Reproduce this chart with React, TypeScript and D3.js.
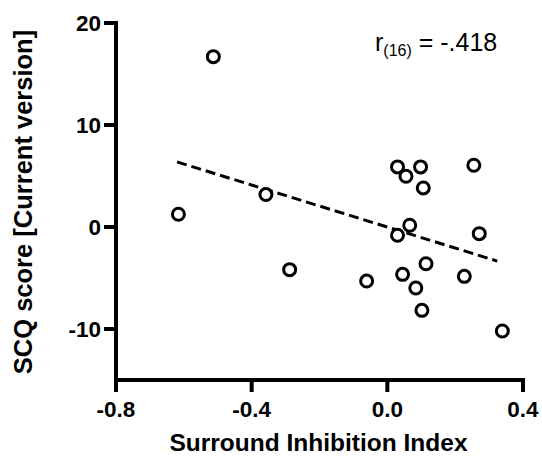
import React from "react";
import * as d3 from "d3";

const xTicks = [-0.8, -0.4, 0.0, 0.4];
const xTickLabels = ["-0.8", "-0.4", "0.0", "0.4"];
const yTicks = [-10, 0, 10, 20];
const yTickLabels = ["-10", "0", "10", "20"];
const xDomain = [-0.8, 0.4];
const yDomain = [-15, 20];

const siIndex = [-0.513, -0.616, -0.358, -0.288, -0.061, 0.03, 0.055, 0.098, 0.106, 0.255, 0.066, 0.03, 0.271, 0.114, 0.045, 0.084, 0.227, 0.102, 0.339];
const scqScore = [16.7, 1.25, 3.18, -4.18, -5.3, 5.89, 4.98, 5.89, 3.83, 6.05, 0.17, -0.81, -0.65, -3.6, -4.64, -5.98, -4.84, -8.17, -10.2];

const fitX = [-0.62, 0.324];
const fitY = [6.38, -3.34];

const W = 542, H = 456;
const left = 116, right = 523, top = 23, bottom = 380;
const FONT = "Liberation Sans, Arial, Helvetica, sans-serif";

export default function App() {
  const x = d3.scaleLinear().domain(xDomain).range([left, right]);
  const y = d3.scaleLinear().domain(yDomain).range([bottom, top]);
  const line = d3.line<number>().x((d, i) => x(fitX[i])).y((d, i) => y(fitY[i]));
  const tickFont = { fontFamily: FONT, fontWeight: 700, fontSize: 22.5 };
  return (
    <svg width={W} height={H} style={{ position: "absolute", left: 0, top: 0, background: "#fff" }}>
      <line x1={left} x2={left} y1={top - 2} y2={bottom + 12} stroke="#000" strokeWidth={4} />
      <line x1={left - 2} x2={right + 2} y1={bottom} y2={bottom} stroke="#000" strokeWidth={4} />
      {yTicks.map((t, i) => (
        <g key={"y" + t}>
          <line x1={left - 12} x2={left} y1={y(t)} y2={y(t)} stroke="#000" strokeWidth={4} />
          <text x={left - 15} y={y(t)} dy="0.36em" textAnchor="end" {...tickFont}>{yTickLabels[i]}</text>
        </g>
      ))}
      {xTicks.map((t, i) => (
        <g key={"x" + t}>
          <line x1={x(t)} x2={x(t)} y1={bottom} y2={bottom + 12} stroke="#000" strokeWidth={4} />
          <text x={x(t)} y={bottom + 37} textAnchor="middle" {...tickFont}>{xTickLabels[i]}</text>
        </g>
      ))}
      <text x={(left + right) / 2 - 1} y={451} textAnchor="middle" fontFamily={FONT} fontWeight={700} fontSize={24.5}>Surround Inhibition Index</text>
      <text transform={`translate(32,${(27 + 377) / 2}) rotate(-90)`} textAnchor="middle" fontFamily={FONT} fontWeight={700} fontSize={25.5}>SCQ score [Current version]</text>
      <path d={line(fitX) || ""} fill="none" stroke="#000" strokeWidth={3} strokeDasharray="10,5" />
      {siIndex.map((v, i) => (
        <circle key={i} cx={x(v)} cy={y(scqScore[i])} r={6} fill="#fff" stroke="#000" strokeWidth={3} />
      ))}
      <text x={375} y={51} fontFamily={FONT} fontSize={25}>
        r<tspan fontSize={16} dy={5}>(16)</tspan><tspan dy={-5}> = -.418</tspan>
      </text>
    </svg>
  );
}
